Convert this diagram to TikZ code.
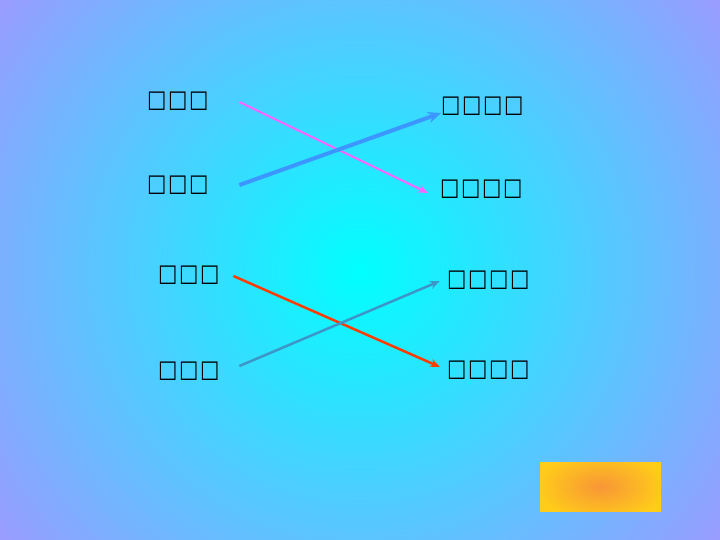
\documentclass[tikz,border=0pt]{standalone}
\usepackage{fontspec}
\newfontfamily\boxfont{DejaVu Sans}
\usetikzlibrary{arrows.meta}
\definecolor{bgc}{RGB}{0,255,255}
\definecolor{bge}{RGB}{155,155,255}
\definecolor{orc}{RGB}{248,150,55}
\definecolor{ore}{RGB}{255,205,25}
\definecolor{pinkc}{RGB}{255,100,255}
\definecolor{bluec}{RGB}{60,150,255}
\definecolor{redc}{RGB}{255,60,0}
\definecolor{steelc}{RGB}{60,150,200}
\pgfdeclareradialshading{bgshade}{\pgfpoint{0bp}{0bp}}{color(0bp)=(bgc); color(452bp)=(bge); color(470bp)=(bge)}
\pgfdeclareradialshading{orshade}{\pgfpoint{0bp}{0bp}}{color(0bp)=(orc); color(64bp)=(ore); color(80bp)=(ore)}
\newcommand{\tofu}{\makebox[21pt][l]{\scalebox{1}[1.18]{□}}}
\tikzset{
  lab/.style={font=\boxfont\fontsize{20.5}{20.5}\selectfont, inner sep=0pt, anchor=west, text=black},
  arr/.style={-{Stealth[length=10pt,width=8pt]}},
  bigarr/.style={-{Stealth[length=13pt,width=11pt]}},
  shadebox/.style={inner sep=0pt, outer sep=0pt},
}
\begin{document}
\begin{tikzpicture}[x=1pt,y=-1pt]
\useasboundingbox (0,0) rectangle (720,540);
\begin{scope}
\clip (0,0) rectangle (720,540);
\node[shadebox] (bg) at (360,270) {\pgfuseshading{bgshade}};
\end{scope}
\begin{scope}
\clip (540,462) rectangle (661,511);
\node[shadebox] (orange) at (600.5,486.5) {\scalebox{1}[0.55]{\pgfuseshading{orshade}}};
\end{scope}
\node[lab] (l1) at (147,101) {\tofu\tofu\tofu};
\node[lab] (l2) at (147,185) {\tofu\tofu\tofu};
\node[lab] (l3) at (158,275) {\tofu\tofu\tofu};
\node[lab] (l4) at (158,371) {\tofu\tofu\tofu};
\node[lab] (r1) at (441,106) {\tofu\tofu\tofu\tofu};
\node[lab] (r2) at (440,189) {\tofu\tofu\tofu\tofu};
\node[lab] (r3) at (447,280) {\tofu\tofu\tofu\tofu};
\node[lab] (r4) at (447,370) {\tofu\tofu\tofu\tofu};
\draw[arr, pinkc, line width=2pt] ([shift={(29,1)}]l1.east) -- ([shift={(-12,4)}]r2.west);
\draw[bigarr, bluec, line width=4pt] ([shift={(29,0)}]l2.east) -- ([shift={(0,7)}]r1.west);
\draw[arr, redc, line width=2.5pt] ([shift={(12,1)}]l3.east) -- ([shift={(-7,-3)}]r4.west);
\draw[arr, steelc, line width=2.5pt] ([shift={(18,-5)}]l4.east) -- ([shift={(-7,1)}]r3.west);
\end{tikzpicture}
\end{document}
